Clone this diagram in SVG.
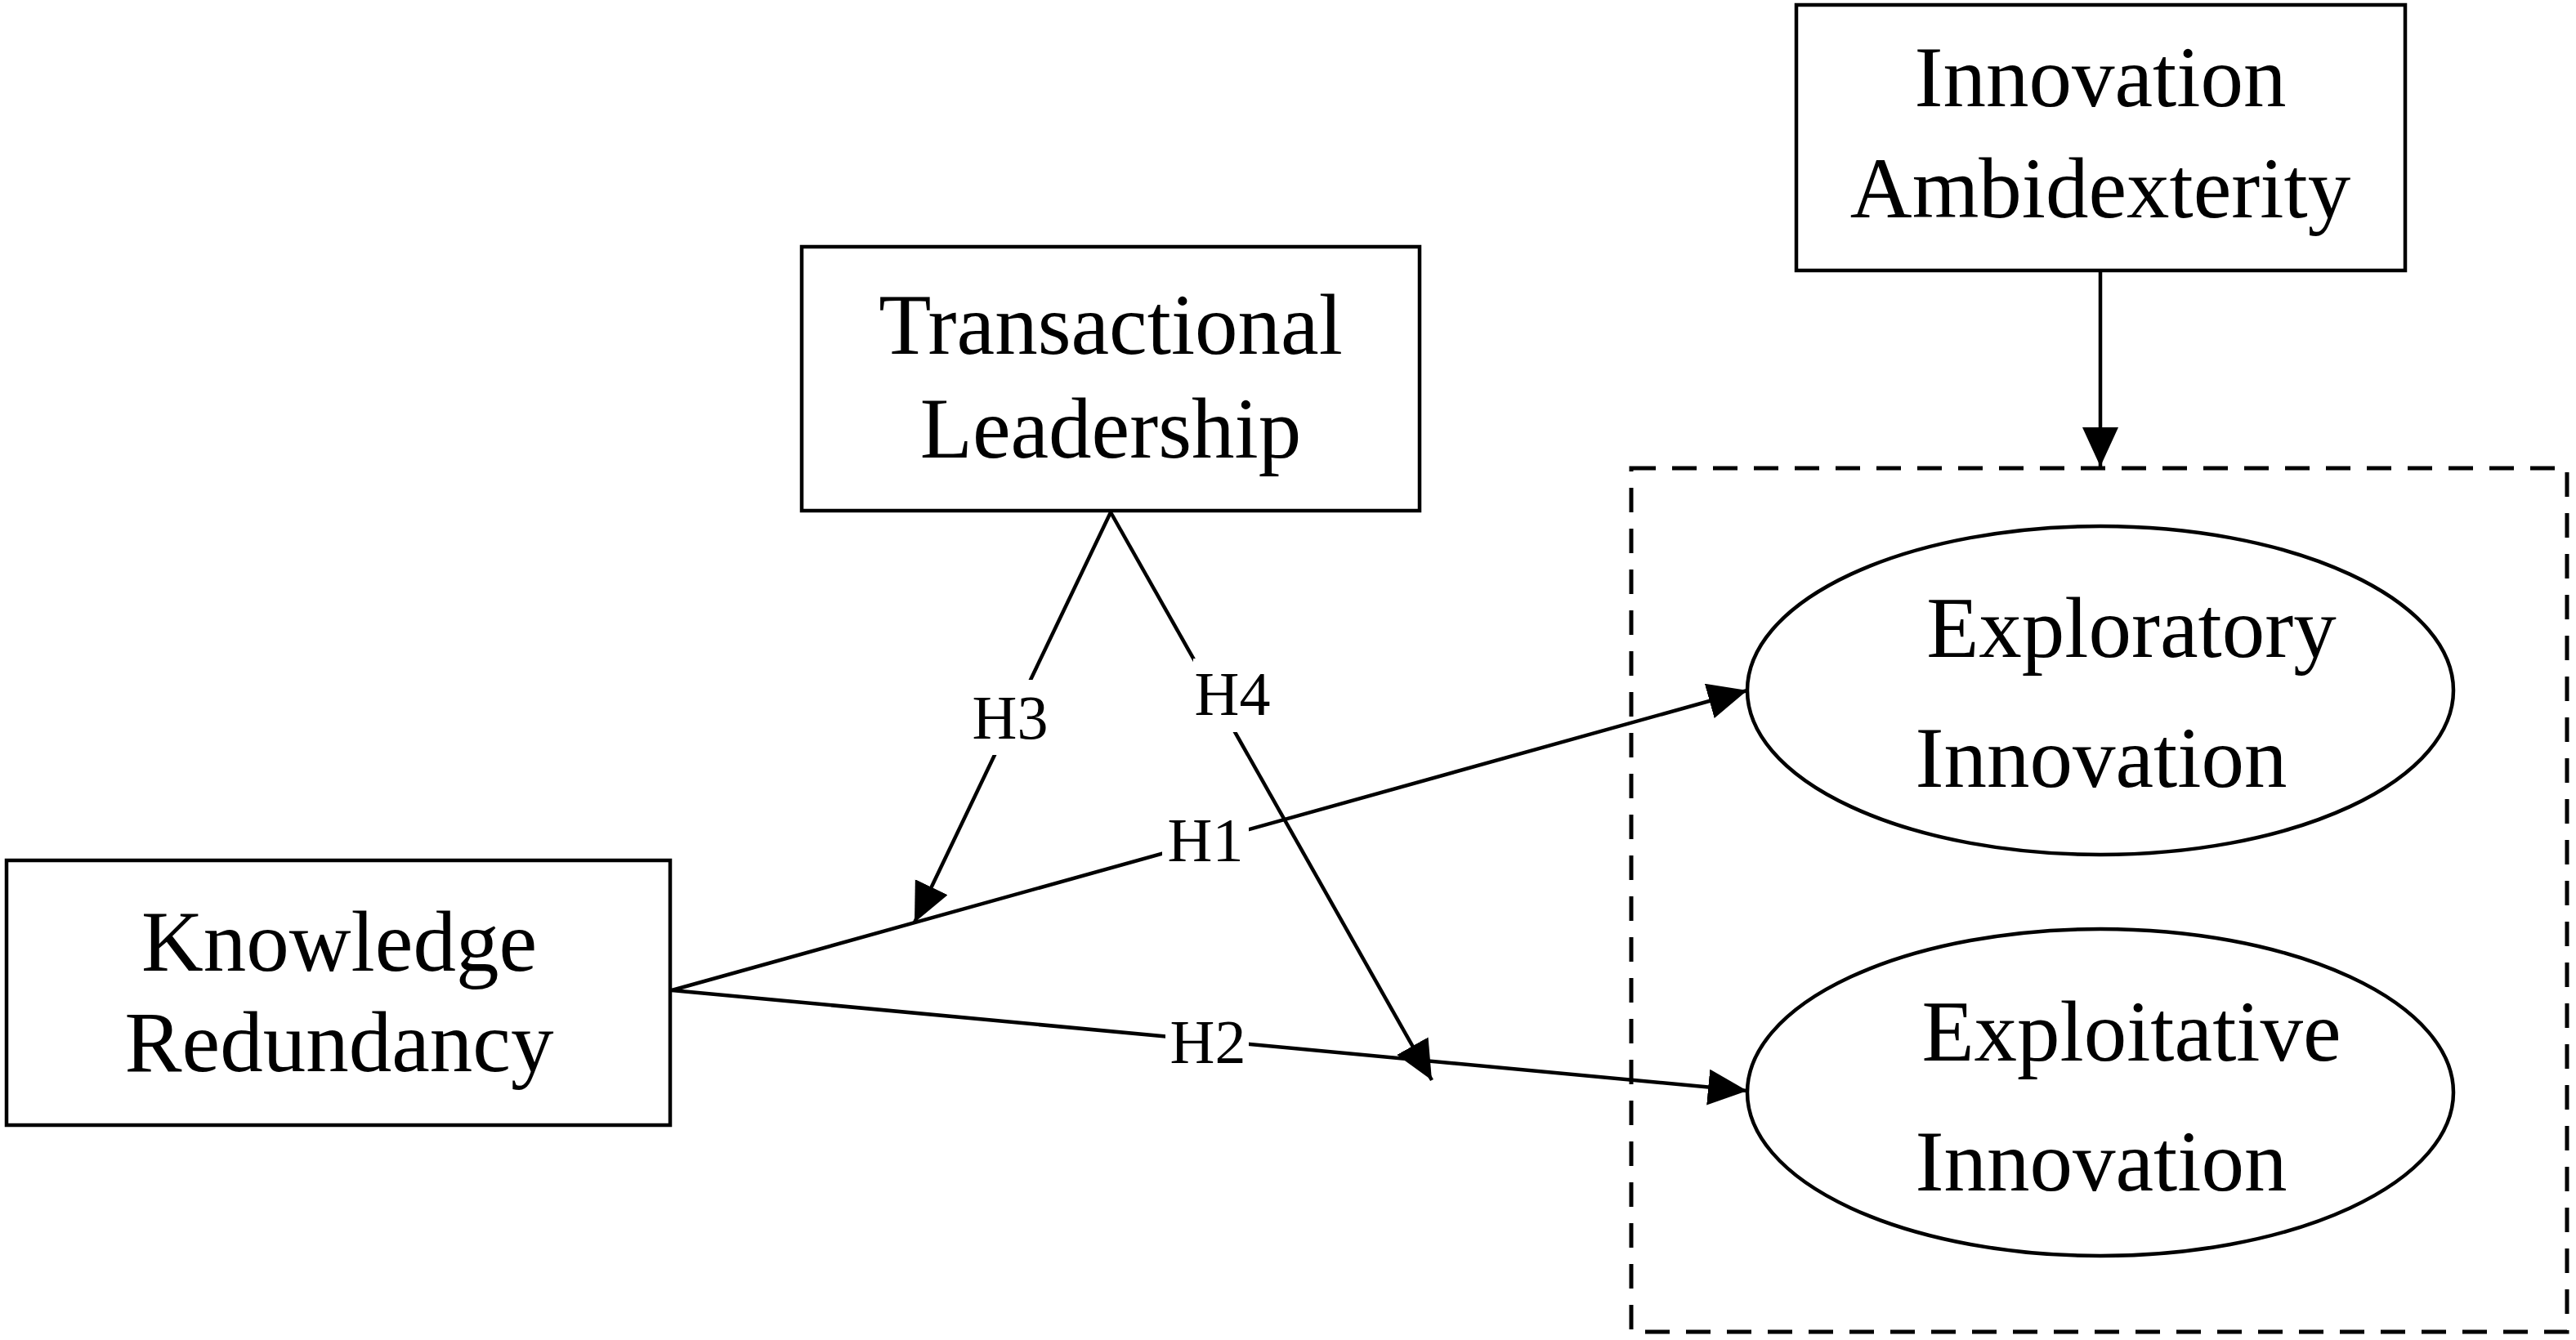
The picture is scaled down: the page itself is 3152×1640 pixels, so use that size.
<svg xmlns="http://www.w3.org/2000/svg" width="3152" height="1640" viewBox="0 0 3152 1640">
<style>
.box{fill:#fff;stroke:#000;stroke-width:4.5}
.ell{fill:#fff;stroke:#000;stroke-width:4.5}
.dash{fill:none;stroke:#000;stroke-width:5;stroke-dasharray:30 20}
.t{font-family:"Liberation Serif","Times New Roman",serif;font-size:105px;fill:#000;text-anchor:middle}
.lbl{font-family:"Liberation Serif","Times New Roman",serif;font-size:76px;fill:#000;text-anchor:middle}
.edge{fill:none;stroke:#000;stroke-width:4.5}
.bg{fill:#fff}
</style>
<defs>
<marker id="arr" markerUnits="userSpaceOnUse" markerWidth="50" markerHeight="46" refX="48" refY="22" orient="auto" viewBox="0 0 50 46">
<path d="M0,0 L48,22 L0,44 z" fill="#000"/>
</marker>
</defs>
<rect width="3152" height="1640" fill="#fff"/>

<g id="outcome-group">
<rect class="dash" x="1996" y="573" width="1145" height="1057"/>
</g>

<g id="connectors">
<line class="edge" x1="2570" y1="331" x2="2570" y2="571" marker-end="url(#arr)"/>
<line class="edge" x1="822" y1="1212" x2="2138" y2="845" marker-end="url(#arr)"/>
<line class="edge" x1="822" y1="1212" x2="2138" y2="1335" marker-end="url(#arr)"/>
<line class="edge" x1="1359" y1="627" x2="1119" y2="1129" marker-end="url(#arr)"/>
<line class="edge" x1="1359" y1="627" x2="1752" y2="1322" marker-end="url(#arr)"/>
<rect class="bg" x="1422" y="993" width="106" height="70"/>
<text class="lbl" x="1475" y="1054">H1</text>
<rect class="bg" x="1426" y="1242" width="102" height="68"/>
<text class="lbl" x="1478" y="1301">H2</text>
<rect class="bg" x="1190" y="832" width="94" height="92"/>
<text class="lbl" x="1236" y="904">H3</text>
<rect class="bg" x="1460" y="806" width="100" height="90"/>
<text class="lbl" x="1508" y="875">H4</text>
</g>

<g id="knowledge-redundancy">
<rect class="box" x="8" y="1053" width="812" height="324"/>
<text class="t" x="415" y="1188">Knowledge</text>
<text class="t" x="415" y="1311">Redundancy</text>
</g>

<g id="transactional-leadership">
<rect class="box" x="981" y="302" width="756" height="323"/>
<text class="t" x="1359" y="433">Transactional</text>
<text class="t" x="1359" y="560">Leadership</text>
</g>

<g id="innovation-ambidexterity">
<rect class="box" x="2198" y="6" width="745" height="325"/>
<text class="t" x="2570" y="130">Innovation</text>
<text class="t" x="2570" y="266">Ambidexterity</text>
</g>

<g id="exploratory-innovation">
<ellipse class="ell" cx="2570" cy="845" rx="432" ry="201"/>
<text class="t" x="2608" y="804">Exploratory</text>
<text class="t" x="2571" y="963">Innovation</text>
</g>

<g id="exploitative-innovation">
<ellipse class="ell" cx="2570" cy="1337" rx="432" ry="200"/>
<text class="t" x="2608" y="1298">Exploitative</text>
<text class="t" x="2571" y="1457">Innovation</text>
</g>
</svg>
